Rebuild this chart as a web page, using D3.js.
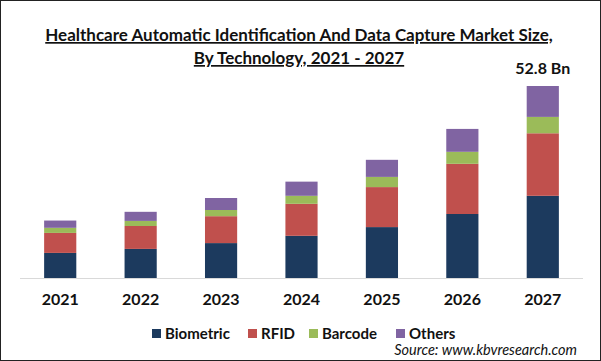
<!DOCTYPE html>
<html>
<head>
<meta charset="utf-8">
<script src="https://cdn.jsdelivr.net/npm/d3@7"></script>
<style>
  body { margin: 0; background: #fff; }
  svg { display: block; font-family: Lato, "Open Sans", sans-serif; }
</style>
</head>
<body>
<div id="chart"></div>
<script>
const years = ["2021", "2022", "2023", "2024", "2025", "2026", "2027"]
const seriesNames = ["Biometric", "RFID", "Barcode", "Others"]
const biometric = [6.9, 8.0, 9.6, 11.6, 14.0, 17.6, 22.6]
const rfid = [5.5, 6.3, 7.4, 8.8, 11.0, 13.8, 17.2]
const barcode = [1.4, 1.4, 1.7, 2.2, 2.8, 3.3, 4.5]
const others = [2.0, 2.5, 3.3, 3.9, 4.7, 6.3, 8.5]
const topLabel = "52.8 Bn"

const COLORS = ["#1c3a5e", "#c0504d", "#9bbb59", "#8064a2"]
const W = 601, H = 361
const X0 = 20, X1 = 583, BASE = 278, TOP = 86

const svg = d3.select("#chart").append("svg")
    .attr("width", W)
    .attr("height", H)

// frame
svg.append("rect")
    .attr("x", 0.5).attr("y", 0.5)
    .attr("width", W - 1).attr("height", H - 1)
    .attr("fill", "none")
    .attr("stroke", "#222")

// title
const titleLines = [
    "Healthcare Automatic Identification And Data Capture Market Size,",
    "By Technology, 2021 - 2027"
]
titleLines.forEach((t, i) => {
    svg.append("text")
        .attr("x", 299)
        .attr("y", 41 + i * 23)
        .attr("text-anchor", "middle")
        .attr("font-size", 17)
        .attr("font-weight", "bold")
        .attr("text-decoration", "underline")
        .attr("fill", "#111")
        .text(t)
})

const table = years.map((y, i) => ({
    year: y,
    Biometric: biometric[i],
    RFID: rfid[i],
    Barcode: barcode[i],
    Others: others[i]
}))

const stacked = d3.stack().keys(seriesNames)(table)

const x = d3.scaleBand()
    .domain(years)
    .range([X0, X1])
    .paddingInner(0.6)
    .paddingOuter(0.3)

const total = d3.max(table, d => d.Biometric + d.RFID + d.Barcode + d.Others)
const y = d3.scaleLinear()
    .domain([0, total])
    .range([BASE, TOP])

svg.append("g")
    .selectAll("g")
    .data(stacked)
    .join("g")
    .attr("fill", (d, i) => COLORS[i])
    .selectAll("rect")
    .data(d => d)
    .join("rect")
    .attr("x", d => x(d.data.year))
    .attr("width", x.bandwidth())
    .attr("y", d => y(d[1]))
    .attr("height", d => y(d[0]) - y(d[1]))

// x axis
const xAxis = svg.append("g")
    .attr("transform", `translate(0, ${BASE})`)
    .call(d3.axisBottom(x).tickSize(0).tickPadding(16))
xAxis.select(".domain").attr("stroke", "#d9d9d9").attr("d", `M${X0},0.5H${X1}`)
xAxis.selectAll("text")
    .attr("font-size", 16)
    .attr("font-weight", "bold")
    .attr("fill", "#111")
    .attr("font-family", "Lato, sans-serif")

// total label on last bar
const lastYear = years[years.length - 1]
svg.append("text")
    .attr("x", x(lastYear) + x.bandwidth() / 2)
    .attr("y", y(total) - 12)
    .attr("text-anchor", "middle")
    .attr("font-size", 16)
    .attr("font-weight", "bold")
    .attr("fill", "#111")
    .text(topLabel)

// legend
const legendX = [152, 248, 309, 396]
const legend = svg.append("g")
seriesNames.forEach((name, i) => {
    legend.append("rect")
        .attr("x", legendX[i])
        .attr("y", 329)
        .attr("width", 9)
        .attr("height", 9)
        .attr("fill", COLORS[i])
    legend.append("text")
        .attr("x", legendX[i] + 13)
        .attr("y", 339)
        .attr("font-size", 15)
        .attr("font-weight", "bold")
        .attr("fill", "#111")
        .text(name)
})

svg.append("text")
    .attr("x", 577)
    .attr("y", 355)
    .attr("text-anchor", "end")
    .attr("font-size", 14.5)
    .attr("font-style", "italic")
    .attr("fill", "#111")
    .text("Source: www.kbvresearch.com")
</script>
</body>
</html>
